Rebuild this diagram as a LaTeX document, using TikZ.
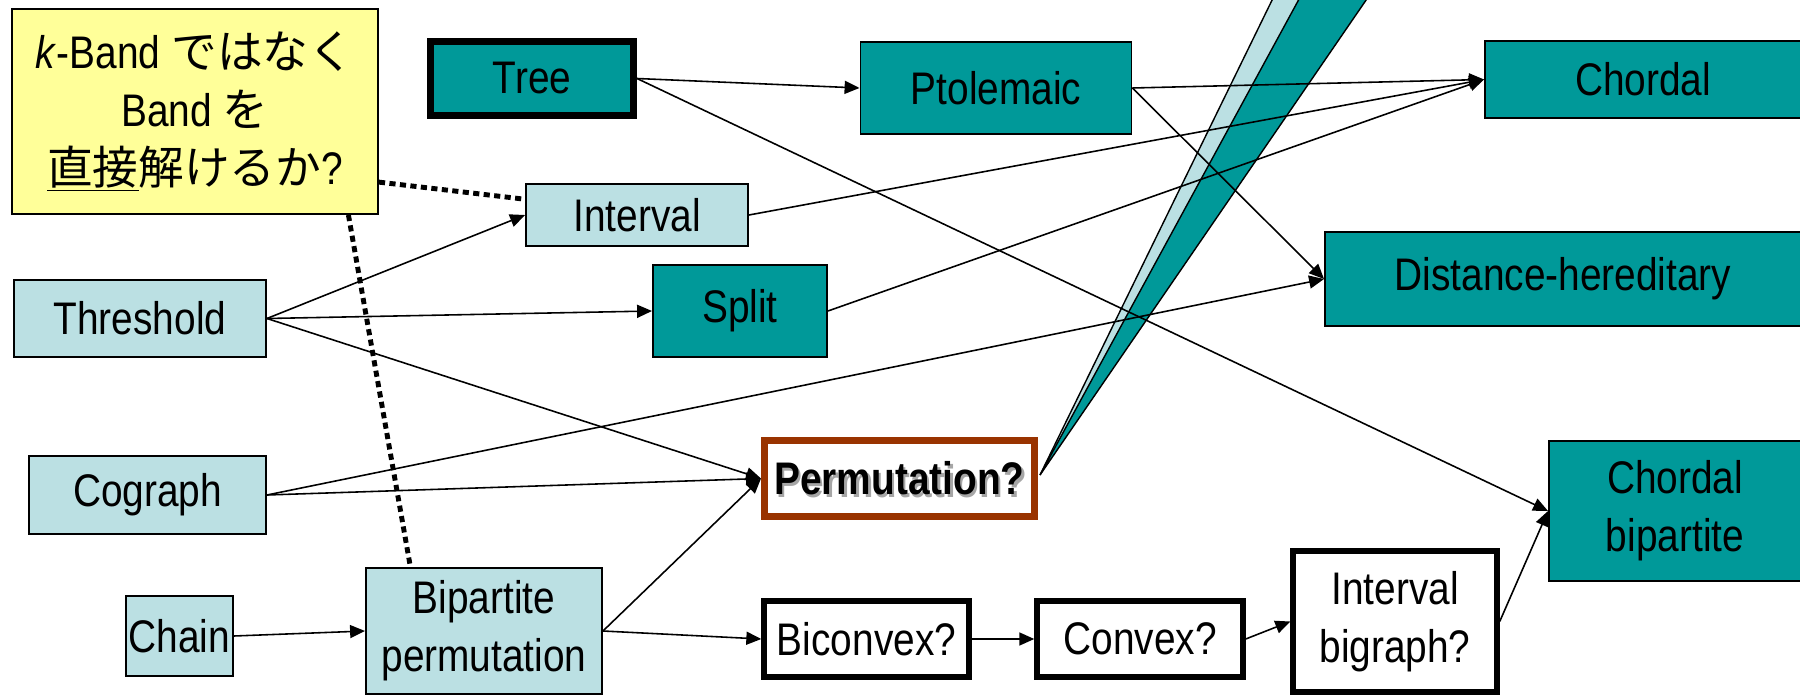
\documentclass[tikz,border=0pt]{standalone}
\usepackage{fontspec}
\setmainfont{Liberation Sans}[FakeStretch=0.85]
\newfontfamily\jpfont{Noto Sans CJK JP}
\usetikzlibrary{arrows.meta}
\definecolor{boxteal}{RGB}{0,153,153}
\definecolor{boxlight}{RGB}{187,224,227}
\definecolor{noteyellow}{RGB}{255,255,153}
\definecolor{permbrown}{RGB}{153,51,0}
\newcommand{\nodefont}{\fontsize{26}{33}\selectfont}
\begin{document}
\begin{tikzpicture}[x=0.02cm, y=-0.02cm, font=\nodefont,
  arr/.style={-{Triangle[length=8.5pt,width=7.4pt]}, line width=0.9pt},
  dotline/.style={line width=2.8pt, dash pattern=on 3.5pt off 2.5pt},
  box/.style={draw, line width=1.1pt, align=center, inner sep=0pt},
  dark/.style={box, fill=boxteal},
  light/.style={box, fill=boxlight},
  open/.style={box, fill=white, line width=3.1pt},
  sz/.style 2 args={minimum width=#1*0.02cm, minimum height=#2*0.02cm}]
\useasboundingbox (0,0) rectangle (1800,696);
\clip (0,0) rectangle (1800,696);

\coordinate (tip) at (1040,475);
\filldraw[fill=boxlight, line width=0.8pt] (tip) -- (1277,-10) -- (1330,-10) -- cycle;
\filldraw[fill=boxteal, line width=0.8pt] (tip) -- (1304,-10) -- (1373,-10) -- cycle;

\node[box, fill=noteyellow, sz={366}{205}] (note) at (195,111.5)
  {\textit{k}-Band {\jpfont ではなく}\\Band {\jpfont を}\\{\jpfont\underline{直接}解けるか}?};
\node[dark, line width=4pt, sz={203}{74}] (tree) at (532,78.5) {Tree};
\node[dark, sz={271}{92}] (ptol) at (996,88) {Ptolemaic};
\node[dark, sz={316}{77}] (chordal) at (1643,79.5) {Chordal};
\node[light, sz={222}{62}] (interval) at (637,215) {Interval};
\node[dark, sz={174}{92}] (split) at (740,311) {Split};
\node[dark, sz={476}{94}] (dh) at (1563,279) {Distance-hereditary};
\node[light, sz={252}{77}] (thr) at (140,318.5) {Threshold};
\node[box, draw=permbrown, fill=white, line width=4pt, sz={270}{76}] (perm) at (899.5,478.5) {};
\node[text=black!35, font=\nodefont\bfseries] (permshd) at ([shift={(2.5,2.5)}]perm.center) {Permutation?};
\node[font=\nodefont\bfseries] (permtxt) at (perm.center) {Permutation?};
\node[light, sz={237}{78}] (cog) at (147.5,495) {Cograph};
\node[dark, sz={252}{140}] (cb) at (1675,511) {Chordal\\bipartite};
\node[light, sz={107}{80}] (chain) at (179.5,636) {Chain};
\node[light, sz={236}{126}] (bip) at (484,631) {Bipartite\\permutation};
\node[open, sz={205}{76}] (bicon) at (866.5,639) {Biconvex?};
\node[open, sz={206}{76}] (conv) at (1140,639) {Convex?};
\node[open, sz={204}{141}] (ibg) at (1395,621.5) {Interval\\bigraph?};

\draw[dotline] (note.-21) -- (interval.172);
\draw[dotline] (note.-34) -- (bip.139);

\foreach \a/\b in {tree/ptol, tree/cb, ptol/chordal, ptol/dh, interval/chordal,
  split/chordal, thr/interval, thr/split, thr/perm, cog/dh, cog/perm,
  chain/bip, bip/perm, bip/bicon, bicon/conv, conv/ibg, ibg/cb}
\draw[arr] (\a.east) -- (\b.west);
\end{tikzpicture}
\end{document}
